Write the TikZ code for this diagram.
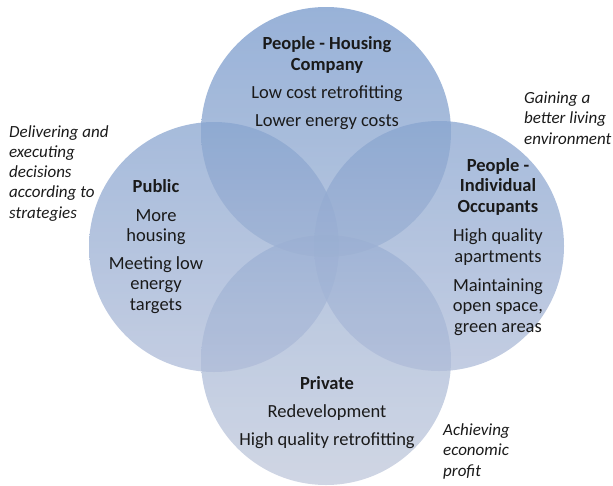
\documentclass[tikz,border=0pt]{standalone}
\usepackage{fontspec}
\setmainfont{Carlito}

\definecolor{housingtop}{RGB}{118,152,203}
\definecolor{housingbot}{RGB}{157,178,211}
\definecolor{sidetop}{RGB}{136,164,207}
\definecolor{sidebot}{RGB}{175,188,216}
\definecolor{privatetop}{RGB}{154,176,211}
\definecolor{privatebot}{RGB}{192,200,219}
\definecolor{ink}{RGB}{26,26,26}

\begin{document}
\begin{tikzpicture}[x=1pt, y=-1pt,
		ring/.style={circle, minimum size=250pt, inner sep=0pt, fill opacity=.75},
		body/.style={font=\fontsize{18.5}{20.5}\selectfont, text=ink, align=center, anchor=base, inner sep=0pt},
		aim/.style={font=\fontsize{17}{20.2}\selectfont\itshape, text=ink, align=left, anchor=base west, inner sep=0pt}]
	\useasboundingbox (0,0) rectangle (613,485);
	\node[ring, top color=housingtop, bottom color=housingbot] (housing) at (326,132) {};
	\node[ring, top color=sidetop, bottom color=sidebot] (public) at (214,247) {};
	\node[ring, top color=sidetop, bottom color=sidebot] (occupants) at (439,246) {};
	\node[ring, top color=privatetop, bottom color=privatebot] (private) at (326,360) {};

	% multi-line nodes sit on the baseline of their last line
	\node[body] (housing-txt) at (327,126) {\textbf{People - Housing}\\\textbf{Company}\\[7.5pt]
		Low cost retrofitting\\[7.5pt]Lower energy costs};
	\node[body] (public-txt) at (156,310) {\textbf{Public}\\[8pt]More\\housing\\[7pt]
		Meeting low\\energy\\targets};
	\node[body] (occupants-txt) at (498,332) {\textbf{People -}\\\textbf{Individual}\\\textbf{Occupants}\\[9pt]
		High quality\\apartments\\[8.5pt]Maintaining\\open space,\\green areas};
	\node[body] (private-txt) at (327,445) {\textbf{Private}\\[8pt]Redevelopment\\[7pt]High quality retrofitting};

	\node[aim] (public-aim) at (9,218) {Delivering and\\executing\\decisions\\according to\\strategies};
	\node[aim] (occupants-aim) at (524,144) {Gaining a\\better living\\environment};
	\node[aim] (private-aim) at (443,476) {Achieving\\economic\\profit};
\end{tikzpicture}
\end{document}
